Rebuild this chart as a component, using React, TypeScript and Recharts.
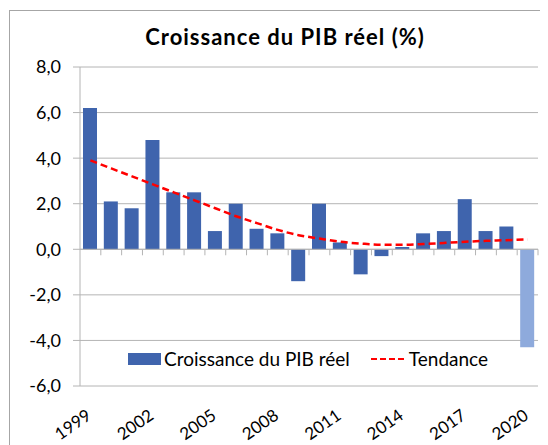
import {
  Bar,
  CartesianGrid,
  Cell,
  ComposedChart,
  Legend,
  Line,
  ReferenceLine,
  XAxis,
  YAxis,
} from "recharts";

const years = [
  "1999", "2000", "2001", "2002", "2003", "2004", "2005", "2006", "2007", "2008", "2009",
  "2010", "2011", "2012", "2013", "2014", "2015", "2016", "2017", "2018", "2019", "2020",
];
const croissance = [
  6.2, 2.1, 1.8, 4.8, 2.5, 2.5, 0.8, 2.0, 0.9, 0.7, -1.4,
  2.0, 0.3, -1.1, -0.3, 0.1, 0.7, 0.8, 2.2, 0.8, 1.0, -4.3,
];
const tendance = [
  3.9, 3.55, 3.2, 2.85, 2.5, 2.15, 1.8, 1.45, 1.15, 0.85, 0.62,
  0.47, 0.33, 0.25, 0.2, 0.2, 0.23, 0.28, 0.33, 0.37, 0.4, 0.43,
];
const yTicks = [-6, -4, -2, 0, 2, 4, 6, 8];
const estimateYear = "2020";

const BLUE = "#3f64ad";
const LIGHT_BLUE = "#8eaadc";
const RED = "#ff0000";
const GRID = "#b4b4b4";

const data = years.map((year, i) => ({
  year,
  croissance: croissance[i],
  tendance: tendance[i],
}));

const fmt = (v: number) => v.toFixed(1).replace(".", ",");

function YearTick({ x, y, payload }: any) {
  const tx = x + 2;
  const ty = y + 32;
  return (
    <text
      x={tx}
      y={ty}
      textAnchor="end"
      fontSize={17}
      fill="#000"
      transform={`rotate(-35, ${tx}, ${ty})`}
    >
      {payload.value}
    </text>
  );
}

// zero line with the category tick marks hanging below it
function ZeroAxis(props: any) {
  const { x1, y1, x2 } = props;
  const step = (x2 - x1) / years.length;
  return (
    <g>
      <line x1={x1} y1={y1} x2={x2} y2={y1} stroke={GRID} />
      {years.map((y, i) => (
        <line
          key={y}
          x1={x1 + (i + 1) * step}
          y1={y1}
          x2={x1 + (i + 1) * step}
          y2={y1 + 6}
          stroke={GRID}
        />
      ))}
    </g>
  );
}

function LegendContent({ payload }: any) {
  return (
    <div style={{ display: "flex", alignItems: "center", fontSize: 19, lineHeight: "22px", color: "#000" }}>
      {(payload || []).map((entry: any) => (
        <div key={entry.value} style={{ display: "flex", alignItems: "center", marginRight: 21 }}>
          {entry.type === "line" ? (
            <svg width={35} height={12}>
              <line x1={0} y1={6} x2={35} y2={6} stroke={entry.color} strokeWidth={2} strokeDasharray="6 3" />
            </svg>
          ) : (
            <div style={{ width: 33, height: 12, background: entry.color }} />
          )}
          <span style={{ marginLeft: 3 }}>{entry.value}</span>
        </div>
      ))}
    </div>
  );
}

export default function App() {
  return (
    <div
      style={{
        position: "relative",
        marginLeft: 1,
        marginTop: 2,
        width: 538,
        height: 434,
        borderTop: "1px solid #a6a6a6",
        borderLeft: "1px solid #a6a6a6",
        fontFamily: "Lato, sans-serif",
        overflow: "hidden",
      }}
    >
      <div
        style={{
          position: "absolute",
          left: 0,
          top: 15,
          width: 550,
          textAlign: "center",
          fontWeight: 700,
          fontSize: 22,
          lineHeight: "22px",
          letterSpacing: 1,
          color: "#000",
          zIndex: 1,
        }}
      >
        Croissance du PIB réel (%)
      </div>
      <ComposedChart
        width={538}
        height={434}
        data={data}
        margin={{ top: 56, right: 10, bottom: 9, left: 10 }}
      >
        <CartesianGrid vertical={false} stroke={GRID} />
        <XAxis
          dataKey="year"
          interval={2}
          tickLine={false}
          axisLine={false}
          tickSize={0}
          tickMargin={0}
          height={50}
          tick={<YearTick />}
        />
        <YAxis
          domain={[-6, 8]}
          ticks={yTicks}
          width={60}
          tickSize={7}
          tickMargin={12}
          axisLine={{ stroke: GRID }}
          tickLine={{ stroke: GRID }}
          tick={{ fill: "#000", fontSize: 18 }}
          tickFormatter={fmt}
        />
        <Legend
          layout="horizontal"
          verticalAlign="middle"
          align="center"
          wrapperStyle={{ left: 118, top: 337, width: 420 }}
          content={<LegendContent />}
        />
        <Bar
          dataKey="croissance"
          name="Croissance du PIB réel"
          fill={BLUE}
          barSize={14}
          legendType="rect"
          isAnimationActive={false}
        >
          {data.map((d) => (
            <Cell key={d.year} fill={d.year === estimateYear ? LIGHT_BLUE : BLUE} />
          ))}
        </Bar>
        <ReferenceLine y={0} shape={<ZeroAxis />} />
        <Line
          dataKey="tendance"
          name="Tendance"
          type="monotone"
          stroke={RED}
          strokeWidth={2.5}
          strokeDasharray="7 4"
          dot={false}
          legendType="line"
          isAnimationActive={false}
        />
      </ComposedChart>
    </div>
  );
}
